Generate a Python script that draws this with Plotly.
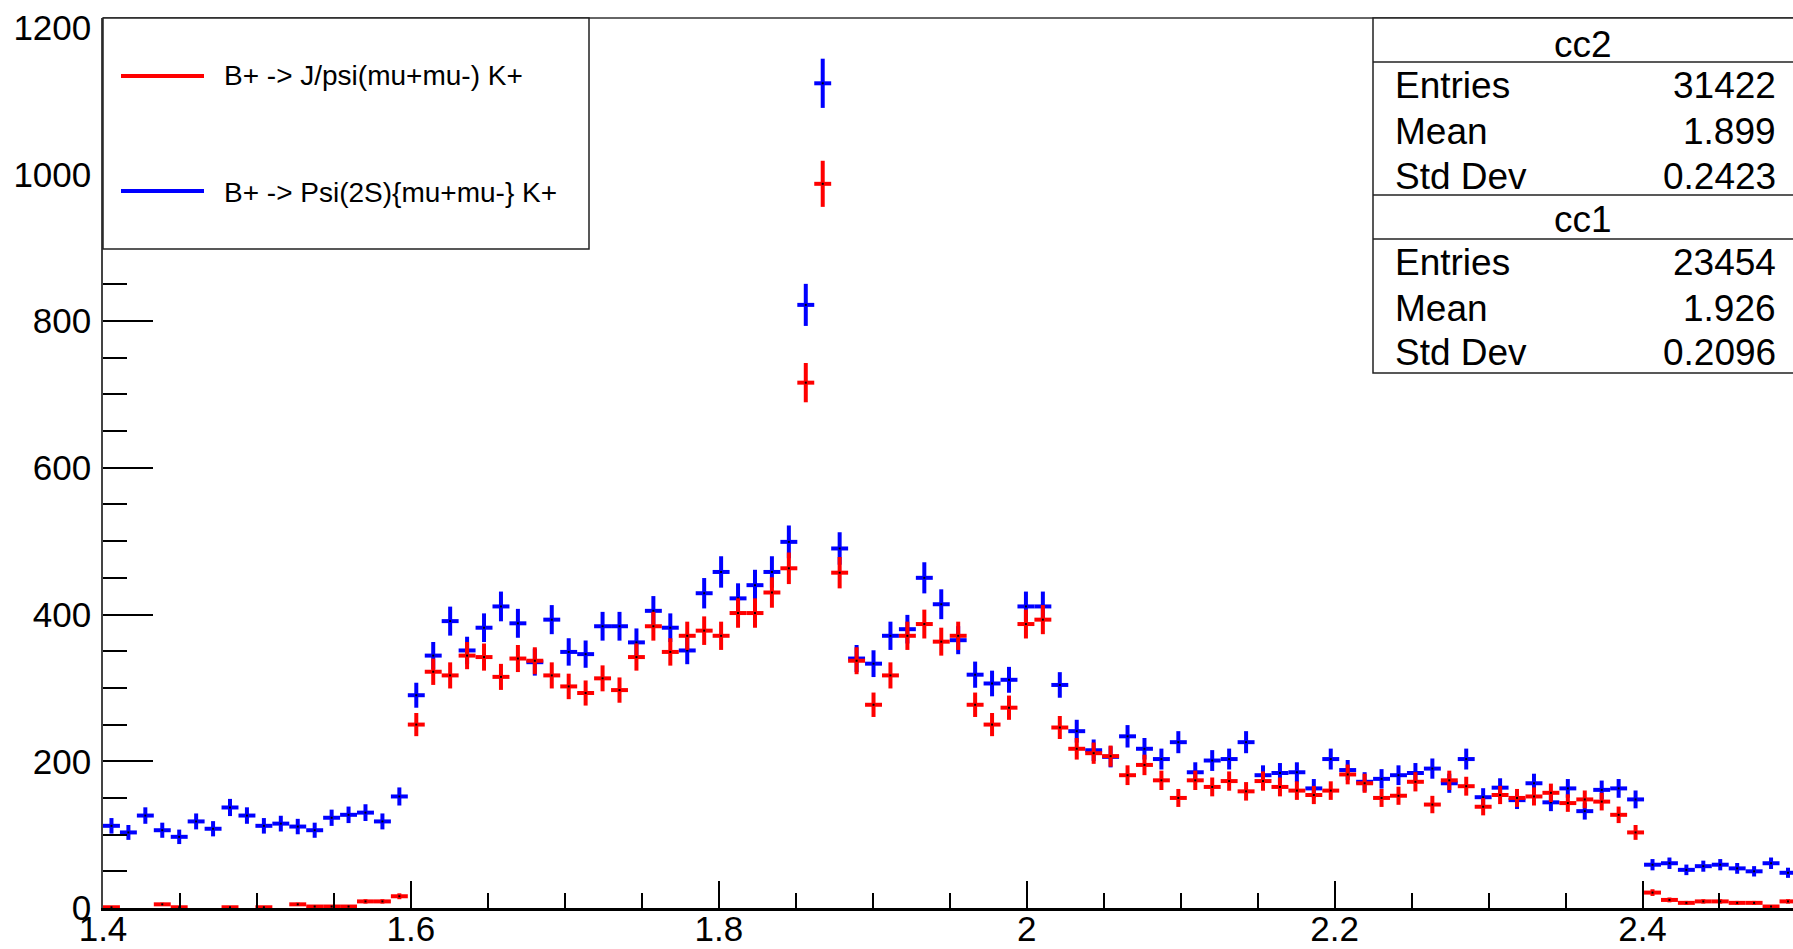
import plotly.graph_objects as go

# Histogram binning (100 bins over [1.4, 2.5])
BIN_LO = 1.4
BIN_HI = 2.5
N_BINS = 100

# cc2 : B+ -> Psi(2S){mu+mu-} K+  (blue)
cc2_counts = [
    112, 103, 126, 106, 97, 118, 108, 137, 126, 112,
    115, 111, 106, 123, 127, 130, 118, 152, 290, 344,
    391, 351, 382, 411, 388, 335, 393, 349, 346, 384,
    384, 362, 405, 382, 351, 429, 458, 422, 440, 458,
    499, 822, 1124, 490, 340, 333, 371, 380, 450, 414,
    365, 318, 306, 311, 411, 411, 304, 241, 215, 206,
    234, 217, 203, 226, 185, 201, 203, 226, 181, 184,
    185, 163, 203, 188, 172, 176, 181, 184, 190, 170,
    203, 151, 164, 147, 170, 144, 163, 132, 161, 163,
    148, 59, 61, 52, 57, 59, 54, 50, 61, 48,
]

# cc1 : B+ -> J/psi(mu+mu-) K+  (red)
cc1_counts = [
    1, 0, 0, 5, 1, 0, 0, 1, 0, 1,
    0, 5, 2, 2, 2, 9, 9, 16, 250, 322,
    317, 344, 342, 315, 340, 337, 317, 302, 293, 313,
    297, 342, 384, 349, 371, 378, 371, 402, 402, 430,
    463, 716, 987, 457, 337, 277, 317, 371, 387, 363,
    371, 277, 250, 273, 387, 393, 246, 217, 211, 207,
    181, 195, 174, 150, 174, 165, 173, 159, 173, 165,
    160, 154, 160, 182, 170, 150, 153, 172, 141, 174,
    166, 138, 154, 150, 152, 157, 143, 148, 145, 127,
    103, 21, 11, 7, 9, 9, 7, 7, 2, 9,
]

legend_labels = ["B+ -> J/psi(mu+mu-) K+", "B+ -> Psi(2S){mu+mu-} K+"]
stats_cc2 = [("Entries", "31422"), ("Mean", "1.899"), ("Std Dev", "0.2423")]
stats_cc1 = [("Entries", "23454"), ("Mean", "1.926"), ("Std Dev", "0.2096")]

RED = "#ff0000"
BLUE = "#0000ff"
FONT = "Liberation Sans"

W, H = 1793, 949
L, R_EDGE, T, B = 103, 1793, 18, 908   # plot area in pixels
bw = (BIN_HI - BIN_LO) / N_BINS
centers = [BIN_LO + bw * (k + 0.5) for k in range(N_BINS)]


def hist_trace(counts, color):
    xs, ys, ex, ey = [], [], [], []
    for c, n in zip(centers, counts):
        if n <= 0:
            continue
        xs.append(c)
        ys.append(n)
        ex.append(bw / 2)
        ey.append(n ** 0.5)
    return go.Scatter(
        x=xs, y=ys, mode="markers",
        marker=dict(size=2, color="black", symbol="square"),
        error_x=dict(type="data", array=ex, color=color, thickness=4, width=0),
        error_y=dict(type="data", array=ey, color=color, thickness=4, width=0),
        showlegend=False, hoverinfo="skip", cliponaxis=True,
    )


fig = go.Figure()
fig.add_trace(hist_trace(cc2_counts, BLUE))
fig.add_trace(hist_trace(cc1_counts, RED))

x_max = BIN_LO + (R_EDGE - L) / 1539.5
y_max = 1213


def px(xp):
    return (xp - L) / (R_EDGE - L)


def py(yp):
    return (B - yp) / (B - T)


shapes = []
annotations = []

# frame top line
shapes.append(dict(type="line", xref="paper", yref="paper", x0=0, x1=1, y0=1, y1=1,
                   line=dict(color="#333333", width=1.5), layer="above"))

# legend box
shapes.append(dict(type="rect", xref="paper", yref="paper",
                   x0=px(L), x1=px(589), y0=py(249), y1=py(T),
                   fillcolor="white", line=dict(color="#222222", width=1.5), layer="above"))
for label, color, yy, ty in [(legend_labels[0], RED, 76, 75), (legend_labels[1], BLUE, 191, 192)]:
    shapes.append(dict(type="line", xref="paper", yref="paper",
                       x0=px(121), x1=px(204), y0=py(yy), y1=py(yy),
                       line=dict(color=color, width=4), layer="above"))
    annotations.append(dict(text=label, xref="paper", yref="paper", x=px(222), y=py(ty),
                            xanchor="left", yanchor="middle", showarrow=False,
                            font=dict(family=FONT, size=28, color="black")))

# stats box
SX0 = 1373
shapes.append(dict(type="rect", xref="paper", yref="paper",
                   x0=px(SX0), x1=px(1800), y0=py(373), y1=py(T),
                   fillcolor="white", line=dict(color="#222222", width=1.5), layer="above"))
for yy in [62, 195, 239]:
    shapes.append(dict(type="line", xref="paper", yref="paper",
                       x0=px(SX0), x1=px(1800), y0=py(yy), y1=py(yy),
                       line=dict(color="#222222", width=1.5), layer="above"))

annotations.append(dict(text="cc2", xref="paper", yref="paper", x=px(1583), y=py(44),
                        xanchor="center", yanchor="middle", showarrow=False,
                        font=dict(family=FONT, size=37, color="black")))
annotations.append(dict(text="cc1", xref="paper", yref="paper", x=px(1583), y=py(219),
                        xanchor="center", yanchor="middle", showarrow=False,
                        font=dict(family=FONT, size=37, color="black")))
for rows, ys in [(stats_cc2, [85, 131, 176]), (stats_cc1, [262, 308, 352])]:
    for (name, val), yy in zip(rows, ys):
        annotations.append(dict(text=name, xref="paper", yref="paper", x=px(1393), y=py(yy),
                                xanchor="left", yanchor="middle", showarrow=False,
                                font=dict(family=FONT, size=37, color="black")))
        annotations.append(dict(text=val, xref="paper", yref="paper", x=px(1778), y=py(yy),
                                xanchor="right", yanchor="middle", showarrow=False,
                                font=dict(family=FONT, size=37, color="black")))

fig.update_layout(
    width=W, height=H,
    margin=dict(l=L, r=W - R_EDGE, t=T, b=H - B, pad=0, autoexpand=False),
    paper_bgcolor="white", plot_bgcolor="white",
    shapes=shapes, annotations=annotations,
    xaxis=dict(
        range=[BIN_LO, x_max], tickmode="linear", tick0=1.4, dtick=0.2,
        ticks="inside", ticklen=27, tickwidth=1.5, tickcolor="black",
        showline=True, linecolor="black", linewidth=3,
        showgrid=False, zeroline=False, automargin=False,
        tickfont=dict(family=FONT, size=35, color="black"),
        ticklabelstandoff=-12,
        minor=dict(dtick=0.05, tick0=1.4, ticks="inside", ticklen=15,
                   tickwidth=1.5, tickcolor="black", showgrid=False),
    ),
    yaxis=dict(
        range=[0, y_max], tickmode="linear", tick0=0, dtick=200,
        ticks="inside", ticklen=50, tickwidth=1.5, tickcolor="black",
        showline=True, linecolor="#444444", linewidth=1.5,
        showgrid=False, zeroline=False, automargin=False,
        tickfont=dict(family=FONT, size=35, color="black"),
        ticklabelstandoff=3,
        minor=dict(dtick=50, tick0=0, ticks="inside", ticklen=24,
                   tickwidth=1.5, tickcolor="black", showgrid=False),
    ),
)

fig.write_html(
    "out.html",
    config={"displayModeBar": False},
    post_script="document.body.style.margin='0';document.body.style.overflow='hidden';",
)
